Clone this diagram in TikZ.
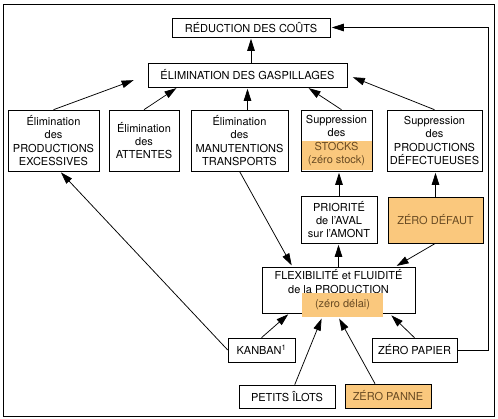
\documentclass[tikz,border=0pt]{standalone}
\usepackage{fontspec}
\setmainfont{TeX Gyre Heros}
\usetikzlibrary{
  calc,
  positioning,
  arrows.meta,
  backgrounds
}
\definecolor{hifill}{RGB}{250,200,125}
\definecolor{hitext}{RGB}{105,75,35}

\begin{document}
\begin{tikzpicture}[x=1pt, y=-1pt, >={Triangle[length=12pt,width=7.5pt]}]
  \tikzset{
    box/.style={
      draw, line width=0.6pt, inner sep=1pt, align=center,
      font=\fontsize{11}{13.3}\selectfont
    },
    hibox/.style={
      box, fill=hifill, text=hitext
    },
    arr/.style={
      ->, line width=0.75pt, shorten >=1.5pt
    },
  }

  \useasboundingbox (0,0) rectangle (498,419);
  \draw[line width=0.6pt] (3,4) rectangle (494,416);

  % top
  \node[box, minimum width=158pt, minimum height=19pt] (cout) at (251,27.5)
    {RÉDUCTION DES COÛTS};
  \node[box, minimum width=199pt, minimum height=24pt] (gasp) at (247.5,75)
    {ÉLIMINATION DES GASPILLAGES};

  % row of the wastes
  \node[box, minimum width=91pt, minimum height=61pt] (prod) at (53.5,140.5)
    {Élimination\\des\\PRODUCTIONS\\EXCESSIVES};
  \node[box, minimum width=70pt, minimum height=61pt] (att) at (144,140.5)
    {Élimination\\des\\ATTENTES};
  \node[box, minimum width=97pt, minimum height=61pt] (manu) at (239.5,140.5)
    {Élimination\\des\\MANUTENTIONS\\TRANSPORTS};
  \begin{scope}[on background layer]
    \fill[hifill] ($(336.5,140.5)+(-35,0.5)$) rectangle ($(336.5,140.5)+(35,30)$);
  \end{scope}
  \node[box, minimum width=71pt, minimum height=61pt] (stock) at (336.5,140.5)
    {Suppression\\des\\\textcolor{hitext}{STOCKS}\\\textcolor{hitext}{(zéro stock)}};
  \node[box, minimum width=95pt, minimum height=61pt] (defect) at (434.5,140.5)
    {Suppression\\des\\PRODUCTIONS\\DÉFECTUEUSES};

  % middle
  \node[box, minimum width=76pt, minimum height=47pt] (aval) at (339,219.5)
    {PRIORITÉ\\de l’AVAL\\sur l’AMONT};
  \node[hibox, minimum width=95pt, minimum height=46pt] (zdef) at (435.5,220)
    {ZÉRO DÉFAUT};
  \node[box, minimum width=153pt, minimum height=46pt] (flex) at (338.5,290)
    {FLEXIBILITÉ et FLUIDITÉ\\de la PRODUCTION\\\strut};
  \node[fill=hifill, text=hitext, inner sep=1pt, minimum width=81pt, minimum height=24pt,
    font=\fontsize{11}{13.3}\selectfont] (delai) at (342.5,305) {(zéro délai)};

  % bottom
  \node[box, minimum width=67pt, minimum height=24pt] (kanban) at (261.5,350)
    {KANBAN\textsuperscript{1}};
  \node[box, minimum width=85pt, minimum height=24pt] (papier) at (414.5,350)
    {ZÉRO PAPIER};
  \node[box, minimum width=96pt, minimum height=23pt] (ilots) at (287,396.5)
    {PETITS ÎLOTS};
  \node[hibox, minimum width=86pt, minimum height=24pt] (panne) at (388,396)
    {ZÉRO PANNE};

  % connectors to the top
  \draw[arr] (cout.south |- gasp.north) -- (cout.south);
  \draw[arr, shorten >=15pt] (prod.north) -- (gasp.west);
  \draw[arr] (att.north) -- ($(gasp.south west)!0.15!(gasp.south east)$);
  \draw[arr] (gasp.south |- manu.north) -- (gasp.south);
  \draw[arr] ($(stock.north)+(5,0)$) -- ($(gasp.south west)!0.8!(gasp.south east)$);
  \draw[arr, shorten >=6pt] (defect.north) -- (gasp.east);

  % connectors of the middle
  \draw[arr] (aval.north) -- (aval.north |- stock.south);
  \draw[arr] (zdef.north) -- (zdef.north |- defect.south);
  \draw[arr] (flex.north) -- (flex.north |- aval.south);
  \draw[arr] (manu.south) -- ($(flex.north west)!0.2!(flex.north east)$);
  \draw[arr] (zdef.south) -- ($(flex.north west)!0.87!(flex.north east)$);

  % connectors from the bottom
  \draw[arr] (kanban.west) -- ($(prod.south west)!0.57!(prod.south east)$);
  \draw[arr] (kanban.north) -- ($(flex.south west)!0.18!(flex.south east)$);
  \draw[arr, shorten >=3pt] (papier.north) -- ($(flex.south west)!0.83!(flex.south east)$);
  \draw[arr] ($(ilots.north west)!0.58!(ilots.north east)$) -- ($(delai.south west)!0.25!(delai.south east)$);
  \draw[arr] ($(panne.north west)!0.35!(panne.north east)$) -- ($(delai.south west)!0.45!(delai.south east)$);
  \draw[arr] (papier.east) -- ++(31,0) |- (cout.east);
\end{tikzpicture}
\end{document}
